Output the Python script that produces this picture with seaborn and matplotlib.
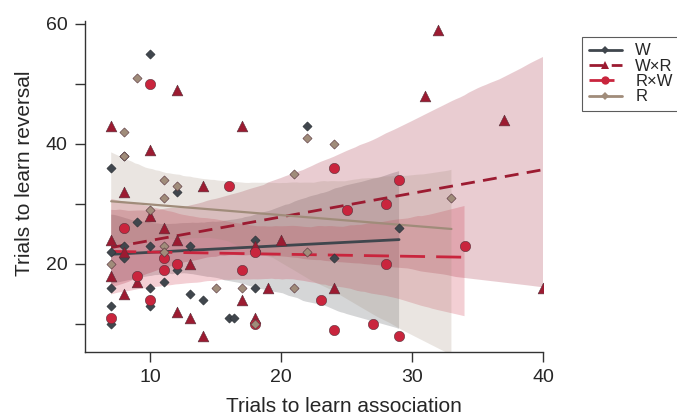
import numpy as np
import pandas as pd
import seaborn as sns
import matplotlib.pyplot as plt
from matplotlib.lines import Line2D

# Trials to learn association (x) and reversal (y) per group
w_x = [10, 7, 8, 12, 9, 8, 7, 8, 10, 13, 12, 11, 7, 10, 13, 14, 10, 10, 7, 7, 16, 16.4, 18, 18, 24, 22, 29]
w_y = [55, 36, 38, 32, 27, 23, 22, 21, 23, 23, 19, 17, 16, 16, 15, 14, 14, 13, 13, 10, 11, 11, 24, 16, 21, 43, 26]

wr_x = [32, 31, 37, 40, 12, 7, 10, 17, 8, 14, 10, 11, 7, 12, 8, 13, 7, 9, 8, 12, 13, 14, 20, 18, 19, 17, 18, 24]
wr_y = [59, 48, 44, 16, 49, 43, 39, 43, 32, 33, 28, 26, 24, 24, 22, 20, 18, 17, 15, 12, 11, 8, 24, 23, 16, 14, 11, 16]

rw_x = [10, 16, 8, 11, 11, 12, 9, 10, 7, 17, 24, 25, 18, 23, 18, 24, 27, 29, 28, 28, 34, 29]
rw_y = [50, 33, 26, 21, 19, 20, 18, 14, 11, 19, 36, 29, 22, 14, 10, 9, 10, 34, 30, 20, 23, 8]

r_x = [9, 8, 8, 11, 12, 11, 10, 11, 11, 7, 15, 21, 22, 17, 21, 18, 22, 24, 33]
r_y = [51, 42, 38, 34, 33, 31, 29, 23, 22, 20, 16, 35, 22, 16, 16, 10, 41, 40, 31]

groups = ["W", "W\u00d7R", "R\u00d7W", "R"]
colors = ["#40464d", "#9c1b31", "#c9253d", "#a08c7a"]
markers = ["D", "^", "o", "D"]
sizes = [22, 60, 55, 22]
dashes = ["-", (0, (5, 3)), (0, (9, 4)), "-"]
widths = [2, 2, 2, 1.6]

df = pd.concat([
    pd.DataFrame({"x": w_x, "y": w_y, "group": groups[0]}),
    pd.DataFrame({"x": wr_x, "y": wr_y, "group": groups[1]}),
    pd.DataFrame({"x": rw_x, "y": rw_y, "group": groups[2]}),
    pd.DataFrame({"x": r_x, "y": r_y, "group": groups[3]}),
])

sns.set_style("ticks")
plt.rcParams["font.family"] = ["Liberation Sans", "DejaVu Sans"]

fig = plt.figure(figsize=(6.77, 4.18), dpi=100)
ax = fig.add_axes([0.1256, 0.158, 0.6765, 0.792])

# regression lines with confidence bands
for g, c, ls, lw in zip(groups, colors, dashes, widths):
    sub = df[df["group"] == g]
    n_before = len(ax.collections)
    sns.regplot(data=sub, x="x", y="y", ax=ax, scatter=False, color=c, ci=95,
                seed=3, line_kws={"linestyle": ls, "linewidth": lw})
    for coll in ax.collections[n_before:]:
        coll.set_alpha(0.22)
        coll.set_edgecolor("none")

# points on top
for g, c, m, s in zip(groups, colors, markers, sizes):
    sub = df[df["group"] == g]
    sns.scatterplot(data=sub, x="x", y="y", ax=ax, color=c, marker=m, s=s,
                    edgecolor="#55303a" if g != "W" else "#2a2e33",
                    linewidth=0.4, zorder=5, legend=False)

ax.set_xlim(5, 40)
ax.set_ylim(5.3, 60.5)
ax.set_xticks([10, 20, 30, 40])
ax.set_yticks([10, 20, 30, 40, 50, 60])
ax.set_yticklabels(["", "20", "", "40", "", "60"])
ax.tick_params(axis="both", direction="out", length=7.5, width=1, labelsize=14,
               color="#333333", pad=5)
for sp in ["left", "bottom"]:
    ax.spines[sp].set_linewidth(1)
    ax.spines[sp].set_color("#333333")
sns.despine(ax=ax)
ax.set_xlabel("Trials to learn association", fontsize=15)
ax.set_ylabel("Trials to learn reversal", fontsize=15)
ax.xaxis.set_label_coords(0.565, -0.137)
ax.yaxis.set_label_coords(-0.112, 0.54)

handles = [Line2D([0], [0], color=c, linestyle=ls, linewidth=2, marker=m,
                  markersize=6 if m != "D" else 4, markeredgewidth=0)
           for c, ls, m in zip(colors, dashes, markers)]
leg = ax.legend(handles, groups, loc="upper left", bbox_to_anchor=(1.085, 0.952),
                frameon=True, fancybox=False, fontsize=12, handlelength=2.0,
                borderpad=0.4, borderaxespad=0, labelspacing=0.02, handletextpad=0.8)
leg.get_frame().set_edgecolor("#333333")
leg.get_frame().set_linewidth(0.8)

fig.savefig("out.png", dpi=100)
